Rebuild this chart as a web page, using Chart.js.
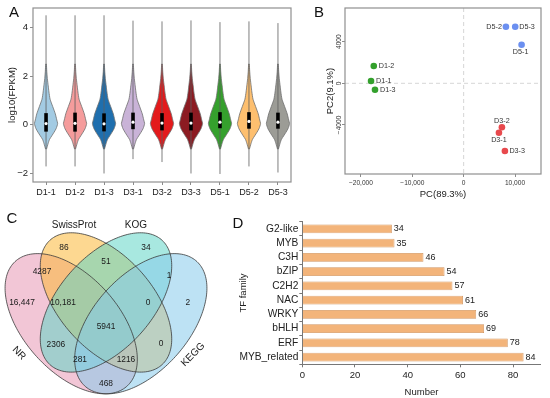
<!DOCTYPE html>
<html>
<head>
<meta charset="utf-8">
<script src="https://cdn.jsdelivr.net/npm/chart.js@4.4.1/dist/chart.umd.min.js"></script>
<style>
  html, body { margin:0; padding:0; background:#ffffff; }
  body { width:550px; height:398px; position:relative; overflow:hidden; }
  canvas { position:absolute; display:block; }
</style>
</head>
<body>
<canvas id="chartA" width="295" height="200" style="left:0px;top:0px"></canvas>
<canvas id="chartB" width="255" height="200" style="left:295px;top:0px"></canvas>
<canvas id="chartC" width="230" height="198" style="left:0px;top:200px"></canvas>
<canvas id="chartD" width="320" height="198" style="left:230px;top:200px"></canvas>
<script>
// ================= DATA =================
// Panel A: violin plots of log10(FPKM)
const samples   = ['D1-1','D1-2','D1-3','D3-1','D3-2','D3-3','D5-1','D5-2','D5-3'];
const tailMin   = [-1.71,-1.71,-2.00,-1.41,-1.53,-2.00,-2.02,-1.71,-1.96];
const tailMax   = [4.50, 4.50, 4.50, 4.28, 4.25, 4.29, 4.22, 4.25, 4.18];
const boxQ1     = [-0.28,-0.28,-0.27,-0.18,-0.23,-0.23,-0.14,-0.16,-0.16];
const boxQ3     = [0.48, 0.50, 0.47, 0.50, 0.48, 0.50, 0.52, 0.52, 0.50];
const medians   = [0.05, 0.06, 0.04, 0.11, 0.07, 0.07, 0.11, 0.14, 0.11];
// shared density profile (value, half-width in category units) read from the shapes
const densityY  = [-1.00,-0.90,-0.75,-0.60,-0.45,-0.30,-0.15,0.05,0.20,0.45,0.75,1.05,1.35,1.60,1.90,2.20,2.50];
const densityW  = [0.015,0.040,0.075,0.120,0.200,0.280,0.350,0.400,0.370,0.320,0.230,0.140,0.100,0.075,0.045,0.025,0.010];
const yTicksA   = [-2, 0, 2, 4];

// Panel B: PCA
const pcaSamples = ['D1-1','D1-2','D1-3','D3-1','D3-2','D3-3','D5-1','D5-2','D5-3'];
const pcaGroups  = ['D1','D1','D1','D3','D3','D3','D5','D5','D5'];
const pc1        = [-18030,-17500,-17260, 6870, 7450, 8030, 11280, 8230, 10040];
const pc2        = [   220,  1660,  -615,-4750,-4230,-6510,  3710, 5440,  5440];
const xTicksB    = [-20000,-10000,0,10000];
const yTicksB    = [-4000,0,4000];

// Panel C: Venn counts (one per region)
const vennSets    = ['NR','SwissProt','KOG','KEGG'];
const vennCounts  = [16447, 86, 34, 2, 4287, 51, 1, 10181, 0, 5941, 2306, 0, 281, 1216, 468];

// Panel D: TF families
const tfFamilies = ['G2-like','MYB','C3H','bZIP','C2H2','NAC','WRKY','bHLH','ERF','MYB_related'];
const tfCounts   = [34, 35, 46, 54, 57, 61, 66, 69, 78, 84];
const xTicksD    = [0, 20, 40, 60, 80];

// ================= STYLE / LAYOUT =================
const FONT = "'Liberation Sans', Arial, Helvetica, sans-serif";
Chart.defaults.font.family = FONT;
Chart.defaults.color = '#222';
Chart.defaults.animation = false;
Chart.defaults.events = [];
Chart.defaults.plugins.legend.display = false;
Chart.defaults.plugins.tooltip.enabled = false;

const violinColors = ['#a3cbe3','#f59c9c','#1f6fae','#c9b3d7','#e31a1c','#8c1b22','#35a02d','#fdbf6f','#9c9c96'];
const groupColors = { D1:'#33a02c', D3:'#e8494d', D5:'#6b8ff0' };
const pcaLabelPos = { // dx, dy, align
  'D1-1':[5,0,'left'], 'D1-2':[5,0,'left'], 'D1-3':[5,0,'left'],
  'D3-1':[0,7,'center'], 'D3-2':[0,-6,'center'], 'D3-3':[4.5,0,'left'],
  'D5-1':[-1,7,'center'], 'D5-2':[-4,0,'right'], 'D5-3':[4,0,'left']
};
const minus = v => (v < 0 ? '\u2212' : '') + Math.abs(v);
const commaMinus = v => (v < 0 ? '\u2212' : '') + Math.abs(v).toLocaleString('en-US');

function txt(ctx, s, x, y, size, opts = {}) {
  ctx.save();
  ctx.font = (opts.weight || 'normal') + ' ' + size + 'px ' + FONT;
  ctx.fillStyle = opts.color || '#222';
  ctx.textAlign = opts.align || 'center';
  ctx.textBaseline = opts.baseline || 'middle';
  ctx.translate(x, y);
  if (opts.rot) ctx.rotate(opts.rot * Math.PI / 180);
  ctx.fillText(s, 0, 0);
  ctx.restore();
}

const framePlugin = {
  id: 'frame',
  afterDatasetsDraw(chart, args, o) {
    if (!o || !o.show) return;
    const { left, top, right, bottom } = chart.chartArea;
    const ctx = chart.ctx;
    ctx.save();
    ctx.strokeStyle = o.color; ctx.lineWidth = o.width;
    ctx.strokeRect(left, top, right - left, bottom - top);
    ctx.restore();
  }
};
const letterPlugin = {
  id: 'letter',
  afterDraw(chart, args, o) {
    if (!o || !o.text) return;
    txt(chart.ctx, o.text, o.x, o.y, 15, { color: '#111' });
  }
};

// ================= PANEL A =================
const datasetsA = [];
samples.forEach((name, i) => {
  const outline = [];
  densityY.forEach((y, k) => outline.push({ x: i - densityW[k], y }));
  for (let k = densityY.length - 1; k >= 0; k--) outline.push({ x: i + densityW[k], y: densityY[k] });
  datasetsA.push({ type: 'line', data: outline, fill: 'shape', backgroundColor: violinColors[i],
    borderColor: '#6f6f6f', borderWidth: 0.8, pointRadius: 0, tension: 0.2, order: 4 });
  datasetsA.push({ type: 'line', data: [{ x: i, y: tailMin[i] }, { x: i, y: tailMax[i] }],
    borderColor: 'rgba(95,95,95,0.8)', borderWidth: 1, pointRadius: 0, fill: false, order: 3 });
  datasetsA.push({ type: 'line', data: [{ x: i, y: boxQ1[i] }, { x: i, y: boxQ3[i] }],
    borderColor: '#000', borderWidth: 3.6, borderCapStyle: 'butt', pointRadius: 0, fill: false, order: 2 });
  datasetsA.push({ type: 'line', data: [{ x: i, y: medians[i] }], showLine: false,
    pointRadius: 1.6, pointBackgroundColor: '#fff', pointBorderWidth: 0, order: 1 });
});

new Chart(document.getElementById('chartA'), {
  type: 'line',
  data: { datasets: datasetsA },
  options: {
    responsive: false,
    layout: { padding: { left: 0, top: 8, right: 2, bottom: 0 } },
    scales: {
      x: {
        type: 'linear', min: -0.45, max: 8.45,
        afterBuildTicks: s => { s.ticks = samples.map((_, i) => ({ value: i })); },
        afterFit: s => { s.height = 18; },
        ticks: { callback: v => samples[v], font: { size: 9 }, color: '#222', padding: 2, maxRotation: 0, autoSkip: false },
        grid: { drawOnChartArea: false, tickLength: 3, color: '#8c8c8c' },
        border: { display: false }
      },
      y: {
        type: 'linear', min: -2.35, max: 4.8,
        afterBuildTicks: s => { s.ticks = yTicksA.map(v => ({ value: v })); },
        afterFit: s => { s.width = 33; },
        ticks: { callback: v => minus(v), font: { size: 9.5 }, color: '#222', padding: 2 },
        grid: { drawOnChartArea: false, tickLength: 3, color: '#8c8c8c' },
        border: { display: false },
        title: { display: true, text: 'log10(FPKM)', font: { size: 9.5 }, color: '#222', padding: { top: 7, bottom: 0 } }
      }
    },
    plugins: {
      frame: { show: true, color: '#8f8f8f', width: 1.2 },
      letter: { text: 'A', x: 14, y: 13 }
    }
  },
  plugins: [framePlugin, letterPlugin]
});

// ================= PANEL B =================
const groupNames = ['D1', 'D3', 'D5'];
const datasetsB = groupNames.map(g => ({
  label: g,
  data: pc1.map((x, i) => ({ x, y: pc2[i], name: pcaSamples[i], g: pcaGroups[i] })).filter(p => p.g === g),
  backgroundColor: groupColors[g], borderWidth: 0, pointRadius: 3.3
}));
const pcaDecor = {
  id: 'pcaDecor',
  beforeDatasetsDraw(chart) {
    const { ctx, chartArea: a, scales: { x, y } } = chart;
    ctx.save();
    ctx.strokeStyle = '#d6d6d6'; ctx.lineWidth = 1; ctx.setLineDash([4, 3]);
    const x0 = x.getPixelForValue(0), y0 = y.getPixelForValue(0);
    ctx.beginPath(); ctx.moveTo(x0, a.top); ctx.lineTo(x0, a.bottom); ctx.stroke();
    ctx.beginPath(); ctx.moveTo(a.left, y0); ctx.lineTo(a.right, y0); ctx.stroke();
    ctx.restore();
  },
  afterDatasetsDraw(chart) {
    const { ctx, scales: { x, y } } = chart;
    chart.data.datasets.forEach((ds, di) => {
      chart.getDatasetMeta(di).data.forEach((pt, k) => {
        const name = ds.data[k].name;
        const [dx, dy, al] = pcaLabelPos[name];
        txt(ctx, name, pt.x + dx, pt.y + dy, 7.2, { align: al, color: '#333' });
      });
    });
    yTicksB.forEach(v => {
      txt(ctx, minus(v), 44.5, y.getPixelForValue(v), 6.6, { rot: -90, color: '#333' });
    });
  }
};
new Chart(document.getElementById('chartB'), {
  type: 'scatter',
  data: { datasets: datasetsB },
  options: {
    responsive: false,
    layout: { padding: { left: 0, top: 8, right: 9, bottom: 0 } },
    scales: {
      x: {
        min: -23100, max: 15060,
        afterBuildTicks: s => { s.ticks = xTicksB.map(v => ({ value: v })); },
        afterFit: s => { s.height = 26; },
        ticks: { callback: v => commaMinus(v), font: { size: 6.6 }, color: '#333', padding: 2, maxRotation: 0 },
        grid: { drawOnChartArea: false, tickLength: 3, color: '#8c8c8c' },
        border: { display: false },
        title: { display: true, text: 'PC(89.3%)', font: { size: 9.5 }, color: '#222', padding: { top: 0, bottom: 0 } }
      },
      y: {
        min: -8720, max: 7240,
        afterBuildTicks: s => { s.ticks = yTicksB.map(v => ({ value: v })); },
        afterFit: s => { s.width = 50; },
        ticks: { display: false },
        grid: { drawOnChartArea: false, tickLength: 3, color: '#8c8c8c' },
        border: { display: false },
        title: { display: true, text: 'PC2(9.1%)', font: { size: 9.5 }, color: '#222', padding: { top: 30, bottom: 0 } }
      }
    },
    plugins: {
      frame: { show: true, color: '#8f8f8f', width: 1.2 },
      letter: { text: 'B', x: 24, y: 13 }
    }
  },
  plugins: [pcaDecor, framePlugin, letterPlugin]
});

// ================= PANEL C (Venn) =================
const vennShapes = [ // unit-square geometry of the four-set Venn layout
  { set: 'NR',        cx: 0.35, cy: 0.470,  a: 0.35, b: 0.200, rot: 135, fill: 'rgba(231,151,180,0.55)' },
  { set: 'SwissProt', cx: 0.50, cy: 0.5565, a: 0.35, b: 0.195, rot: 135, fill: 'rgba(251,184,55,0.55)' },
  { set: 'KOG',       cx: 0.50, cy: 0.5565, a: 0.35, b: 0.195, rot: 45,  fill: 'rgba(97,213,199,0.55)' },
  { set: 'KEGG',      cx: 0.65, cy: 0.470,  a: 0.35, b: 0.200, rot: 45,  fill: 'rgba(135,202,235,0.55)' }
];
const vennLabelPos = [
  [0.138,0.554],[0.319,0.778],[0.672,0.778],[0.853,0.554],[0.224,0.680],[0.500,0.721],[0.772,0.664],
  [0.315,0.554],[0.681,0.554],[0.500,0.457],[0.284,0.384],[0.737,0.388],[0.388,0.323],[0.586,0.323],[0.500,0.225]
];
const vennSetLabelPos = { NR: [0.125, 0.350, 45], SwissProt: [0.362, 0.872, 0], KOG: [0.629, 0.872, 0], KEGG: [0.875, 0.345, -45] };
const fmtVenn = n => (n >= 10000 ? n.toLocaleString('en-US') : String(n));

const vennPlugin = {
  id: 'venn',
  afterDraw(chart) {
    const { ctx, scales: { x, y } } = chart;
    const path = e => {
      const th = e.rot * Math.PI / 180;
      ctx.beginPath();
      for (let k = 0; k <= 180; k++) {
        const t = k / 180 * 2 * Math.PI;
        const ux = e.cx + e.a * Math.cos(t) * Math.cos(th) - e.b * Math.sin(t) * Math.sin(th);
        const uy = e.cy + e.a * Math.cos(t) * Math.sin(th) + e.b * Math.sin(t) * Math.cos(th);
        const px = x.getPixelForValue(ux), py = y.getPixelForValue(uy);
        if (k === 0) ctx.moveTo(px, py); else ctx.lineTo(px, py);
      }
      ctx.closePath();
    };
    ctx.save();
    vennShapes.forEach(e => { path(e); ctx.fillStyle = e.fill; ctx.fill(); });
    ctx.strokeStyle = '#3a3a3a'; ctx.lineWidth = 0.8;
    vennShapes.forEach(e => { path(e); ctx.stroke(); });
    ctx.restore();
    vennCounts.forEach((n, i) => {
      const [ux, uy] = vennLabelPos[i];
      txt(ctx, fmtVenn(n), x.getPixelForValue(ux), y.getPixelForValue(uy), 8.4, { color: '#1a1a1a' });
    });
    vennSets.forEach(s => {
      const [ux, uy, r] = vennSetLabelPos[s];
      txt(ctx, s, x.getPixelForValue(ux), y.getPixelForValue(uy), 10, { rot: r, color: '#1a1a1a' });
    });
  }
};
new Chart(document.getElementById('chartC'), {
  type: 'scatter',
  data: { datasets: [] },
  options: {
    responsive: false,
    layout: { padding: 0 },
    scales: {
      x: { type: 'linear', min: 0.0431, max: 1.0345, display: false },
      y: { type: 'linear', min: 0.168, max: 0.973, display: false }
    },
    plugins: { letter: { text: 'C', x: 12, y: 19 } }
  },
  plugins: [vennPlugin, letterPlugin]
});

// ================= PANEL D =================
const barLabels = {
  id: 'barLabels',
  afterDatasetsDraw(chart) {
    const ctx = chart.ctx;
    chart.getDatasetMeta(0).data.forEach((bar, i) => {
      txt(ctx, String(tfCounts[i]), bar.x + 2, bar.y, 9, { align: 'left', color: '#222' });
    });
  }
};
new Chart(document.getElementById('chartD'), {
  type: 'bar',
  data: {
    labels: tfFamilies,
    datasets: [{ data: tfCounts, backgroundColor: '#f3b47a', borderColor: '#cf925c', borderWidth: 0.8,
      barPercentage: 0.61, categoryPercentage: 1 }]
  },
  options: {
    responsive: false,
    indexAxis: 'y',
    layout: { padding: { left: 0, top: 21.7, right: 9.3, bottom: 0 } },
    scales: {
      x: {
        type: 'linear', min: 0, max: 90.5,
        afterBuildTicks: s => { s.ticks = xTicksD.map(v => ({ value: v })); },
        afterFit: s => { s.height = 33.7; },
        ticks: { font: { size: 9.5 }, color: '#222', padding: 2, maxRotation: 0 },
        grid: { drawOnChartArea: false, tickLength: 3, color: '#777' },
        border: { display: true, color: '#777', width: 1 },
        title: { display: true, text: 'Number', font: { size: 9.5 }, color: '#222', padding: { top: 0, bottom: 0 } }
      },
      y: {
        type: 'category',
        afterFit: s => { s.width = 72.3; },
        ticks: { font: { size: 10.2 }, color: '#222', padding: 1, autoSkip: false },
        grid: { drawOnChartArea: false, tickLength: 3, color: '#777', offset: true },
        border: { display: true, color: '#777', width: 1 },
        title: { display: true, text: 'TF family', font: { size: 9.5 }, color: '#222', padding: { top: 8, bottom: 0 } }
      }
    },
    plugins: { letter: { text: 'D', x: 8, y: 24 } }
  },
  plugins: [barLabels, letterPlugin]
});
</script>
</body>
</html>
